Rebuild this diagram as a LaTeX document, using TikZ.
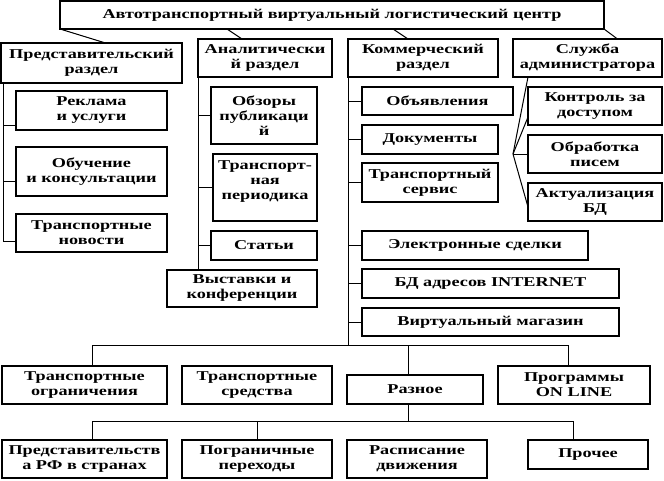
\documentclass[tikz,border=0pt]{standalone}
\usepackage{fontspec}
\setmainfont{Liberation Serif}[FakeStretch=1.35]
\begin{document}
\begin{tikzpicture}[
		x=1pt, y=-1pt,
		box/.style={draw, line width=1.2pt, anchor=north west, align=center, inner sep=1pt, outer sep=0pt, font=\fontsize{13.5}{15}\selectfont\bfseries},
		link/.style={line width=1pt}
		]
		
		\useasboundingbox (0,0) rectangle (664,480);
		
		% top and sections
		\node[box, minimum width=544pt, minimum height=28pt] (centr) at (60,1) {Автотранспортный виртуальный логистический центр};
		\node[box, minimum width=181pt, minimum height=40pt] (predst) at (1,43) {Представительский\\раздел};
		\node[box, minimum width=134pt, minimum height=38pt] (analit) at (198,39) {Аналитически\\й раздел};
		\node[box, minimum width=150pt, minimum height=38pt] (kommer) at (348,39) {Коммерческий\\раздел};
		\node[box, minimum width=149pt, minimum height=38pt] (sluzhba) at (513,39) {Служба\\администратора};
		
		% representative
		\node[box, minimum width=151pt, minimum height=39pt] (reklama) at (16,91) {Реклама\\и услуги};
		\node[box, minimum width=151pt, minimum height=49pt] (obuch) at (16,147) {Обучение\\и консультации};
		\node[box, minimum width=151pt, minimum height=38pt] (novosti) at (16,214) {Транспортные\\новости};
		
		% analytical
		\node[box, minimum width=106pt, minimum height=57pt] (obzory) at (211,87) {Обзоры\\публикаци\\й};
		\node[box, minimum width=104pt, minimum height=67pt] (period) at (213,154) {Транспорт-\\ная\\периодика\\\mbox{}};
		\node[box, minimum width=106pt, minimum height=29pt] (stati) at (211,231) {Статьи};
		\node[box, minimum width=150pt, minimum height=37pt] (vystavki) at (167,270) {Выставки и\\конференции};
		
		% commercial
		\node[box, minimum width=151pt, minimum height=28pt] (obyav) at (362,87) {Объявления};
		\node[box, minimum width=136pt, minimum height=29pt] (dokum) at (362,125) {Документы};
		\node[box, minimum width=136pt, minimum height=39pt] (tsrv) at (362,163) {Транспортный\\сервис};
		\node[box, minimum width=226pt, minimum height=29pt] (sdelki) at (362,231) {Электронные сделки};
		\node[box, minimum width=257pt, minimum height=29pt] (bdadr) at (362,269) {БД адресов INTERNET};
		\node[box, minimum width=257pt, minimum height=28pt] (magazin) at (362,308) {Виртуальный магазин};
		
		% admin
		\node[box, minimum width=134pt, minimum height=38pt] (kontrol) at (528,87) {Контроль за\\доступом};
		\node[box, minimum width=134pt, minimum height=38pt] (obrab) at (528,135) {Обработка\\писем};
		\node[box, minimum width=134pt, minimum height=38pt] (aktual) at (528,183) {Актуализация\\БД};
		
		% bottom rows
		\node[box, minimum width=165pt, minimum height=38pt] (ogran) at (2,366) {Транспортные\\ограничения};
		\node[box, minimum width=150pt, minimum height=38pt] (sredstva) at (182,366) {Транспортные\\средства};
		\node[box, minimum width=136pt, minimum height=29pt] (raznoe) at (347,375) {Разное};
		\node[box, minimum width=152pt, minimum height=38pt] (progr) at (498,366) {Программы\\ON LINE};
		\node[box, minimum width=165pt, minimum height=38pt] (predrf) at (2,440) {Представительств\\а РФ в странах};
		\node[box, minimum width=150pt, minimum height=38pt] (pogran) at (182,440) {Пограничные\\переходы};
		\node[box, minimum width=140pt, minimum height=38pt] (raspis) at (347,440) {Расписание\\движения};
		\node[box, minimum width=120pt, minimum height=29pt] (prochee) at (528,440) {Прочее};
		
		% links from the centre
		\draw[link] (centr.south west) -- ([xshift=14pt]predst.north);
		\draw[link] ([xshift=-105pt]centr.south) -- ([xshift=-23pt]analit.north);
		\draw[link] ([xshift=61pt]centr.south) -- ([xshift=-15pt]kommer.north);
		\draw[link] (centr.south east) -- ([xshift=30pt]sluzhba.north);
		
		% trunks
		\draw[link] ([xshift=2pt]predst.south west) |- ([yshift=-8pt]novosti.west);
		\foreach \n/\s in {reklama/-15, obuch/-10}
			\draw[link] ([xshift=2pt]predst.south west) |- ([yshift=\s pt]\n.west);
		
		\draw[link] (analit.south west) -- (analit.south west |- vystavki.north);
		\foreach \n in {obzory, period, stati}
			\draw[link] (analit.south west) |- (\n.west);
		
		\path (kommer.south west) ++(0,268) coordinate (jn1);
		\draw[link] (kommer.south west) -- (jn1);
		\foreach \n in {obyav, dokum, tsrv, sdelki, bdadr, magazin}
			\draw[link] (kommer.south west) |- (\n.west);
		
		\coordinate (fan) at (513,154);
		\draw[link] ([xshift=15pt]sluzhba.south west) -- (fan);
		\foreach \n/\s in {kontrol/-11, obrab/0, aktual/-5}
			\draw[link] (fan) -- ([yshift=\s pt]\n.west);
		
		% bottom
		\coordinate (d1) at ([xshift=8pt]ogran.north);
		\coordinate (d2) at ([xshift=-7pt]raznoe.north);
		\coordinate (d3) at ([xshift=-6pt]progr.north);
		\draw[link] (d1) |- (d3 |- jn1) -- (d3);
		\draw[link] (d2) -- (d2 |- jn1);
		
		\coordinate (jn2) at ([xshift=-7pt, yshift=-17pt]raznoe.south);
		\coordinate (e1) at ([xshift=8pt]predrf.north);
		\coordinate (e3) at ([xshift=-15pt]prochee.north);
		\draw[link] ([xshift=-7pt]raznoe.south) -- (jn2);
		\draw[link] (e1) |- (e3 |- jn2) -- (e3);
		\draw[link] (pogran.north) -- (pogran.north |- jn2);
		
	\end{tikzpicture}
\end{document}
